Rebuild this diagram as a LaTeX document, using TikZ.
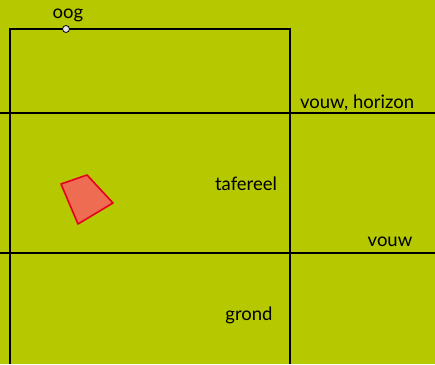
\documentclass[tikz,border=0pt]{standalone}
\usepackage{fontspec}
\setmainfont{Lato}
\definecolor{veld}{RGB}{181,200,0}
\definecolor{vlak}{RGB}{238,108,82}
\definecolor{rand}{RGB}{230,0,30}
\begin{document}
\begin{tikzpicture}[x=1pt,y=-1pt,line width=2pt]
\tikzset{lbl/.style={inner sep=0pt,font=\fontsize{18.5}{22}\selectfont}}
\fill[veld] (0,0) rectangle (435,364);
\useasboundingbox (0,0) rectangle (435,364);

\draw (10,364) -- (10,29) -- (290,29) -- (290,364);
\draw (0,113) -- (435,113);
\draw (0,253) -- (435,253);

\draw[rand, fill=vlak, line width=1.6pt, line join=round] (61,184) -- (87,175) -- (113,203) -- (78,224) -- cycle;

\node[circle, fill=gray!20, draw, line width=0.8pt, inner sep=0pt, minimum size=7pt] (oog) at (66,29) {};
\node[lbl] (ooglbl) at (68,15) {oog};
\node[lbl, anchor=west] (hor) at (299,103) {vouw, horizon};
\node[lbl] (taf) at (246,184) {tafereel};
\node[lbl] (vouw) at (390,242) {vouw};
\node[lbl] (grond) at (249,315) {grond};
\end{tikzpicture}
\end{document}
